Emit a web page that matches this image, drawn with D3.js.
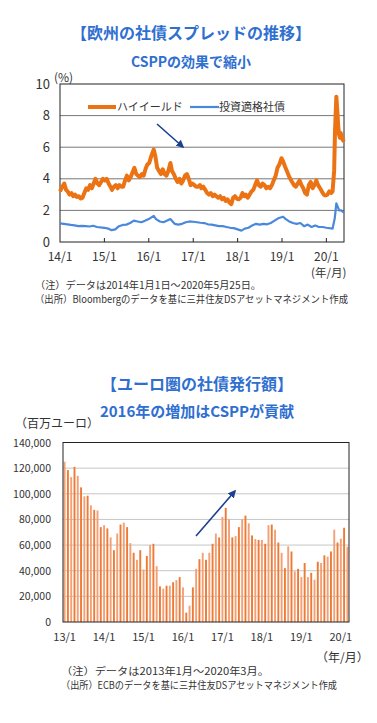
<!DOCTYPE html>
<html>
<head>
<meta charset="utf-8">
<script src="https://cdn.jsdelivr.net/npm/d3@7"></script>
<style>
  body { margin: 0; background: #fff; }
  svg { display: block; font-family: "Noto Sans CJK JP", "Noto Sans", sans-serif; }
  .ttl { fill: #2f6fd0; font-weight: bold; text-anchor: middle; }
  .lbl { fill: #333; }
</style>
</head>
<body>
<svg id="chart" width="377" height="723"></svg>
<script>
// --- spread chart data (%) ---
var hyDates = ["2014-01-01","2014-01-20","2014-02-05","2014-02-20","2014-03-05","2014-03-20","2014-04-05","2014-04-20","2014-05-05","2014-05-20","2014-06-05","2014-06-20","2014-07-05","2014-07-20","2014-08-05","2014-08-20","2014-09-05","2014-09-20","2014-10-05","2014-10-20","2014-11-05","2014-11-20","2014-12-05","2014-12-20",
  "2015-01-05","2015-01-20","2015-02-05","2015-02-20","2015-03-05","2015-03-20","2015-04-05","2015-04-20","2015-05-05","2015-05-20","2015-06-05","2015-06-20","2015-07-05","2015-07-20","2015-08-05","2015-08-20","2015-09-05","2015-09-20","2015-10-05","2015-10-20","2015-11-05","2015-11-20","2015-12-05","2015-12-20",
  "2016-01-05","2016-01-20","2016-02-11","2016-02-25","2016-03-10","2016-03-25","2016-04-10","2016-04-25","2016-05-10","2016-05-25","2016-06-10","2016-06-27","2016-07-10","2016-07-25","2016-08-10","2016-08-25","2016-09-10","2016-09-25","2016-10-10","2016-10-25","2016-11-10","2016-11-25","2016-12-10","2016-12-25",
  "2017-01-10","2017-01-25","2017-02-10","2017-02-25","2017-03-10","2017-03-25","2017-04-10","2017-04-25","2017-05-10","2017-05-25","2017-06-10","2017-06-25","2017-07-10","2017-07-25","2017-08-10","2017-08-25","2017-09-10","2017-09-25","2017-10-10","2017-10-25","2017-11-10","2017-11-25","2017-12-10","2017-12-25",
  "2018-01-10","2018-01-25","2018-02-10","2018-02-25","2018-03-10","2018-03-25","2018-04-10","2018-04-25","2018-05-10","2018-05-25","2018-06-10","2018-06-25","2018-07-10","2018-07-25","2018-08-10","2018-08-25","2018-09-10","2018-09-25","2018-10-10","2018-10-25","2018-11-10","2018-11-25","2018-12-10","2018-12-28",
  "2019-01-10","2019-01-25","2019-02-10","2019-02-25","2019-03-10","2019-03-25","2019-04-10","2019-04-25","2019-05-10","2019-05-25","2019-06-10","2019-06-25","2019-07-10","2019-07-25","2019-08-10","2019-08-25","2019-09-10","2019-09-25","2019-10-10","2019-10-25","2019-11-10","2019-11-25","2019-12-10","2019-12-25",
  "2020-01-10","2020-01-25","2020-02-10","2020-02-21","2020-03-05","2020-03-12","2020-03-23","2020-03-31","2020-04-07","2020-04-14","2020-04-21","2020-04-28","2020-05-05","2020-05-12","2020-05-25"];
var hyValues = [3.2,3.5,3.7,3.3,3.2,3.0,3.1,2.9,3.0,2.85,2.9,2.75,2.8,3.1,3.4,3.3,3.6,3.4,3.7,4.0,3.7,3.6,3.8,4.0,
  3.9,4.0,3.7,3.5,3.3,3.5,3.6,3.4,3.6,3.5,3.5,3.9,4.2,3.9,4.1,4.4,4.7,4.3,4.2,4.1,4.3,4.2,4.6,4.9,
  5.0,5.4,5.85,5.4,4.7,4.5,4.3,4.6,4.3,4.2,4.5,5.0,4.5,4.3,4.0,3.8,4.0,3.7,3.9,4.2,4.3,4.0,3.6,3.7,
  3.6,3.5,3.5,3.6,3.4,3.5,3.3,3.1,3.0,3.1,2.9,3.0,2.9,2.8,2.9,2.7,2.8,2.6,2.7,2.5,2.4,2.8,2.9,2.75,
  2.7,2.8,3.1,2.9,3.0,2.8,3.0,3.2,3.3,3.6,3.9,3.6,3.5,3.7,3.6,3.4,3.5,3.4,3.6,3.9,4.2,4.7,4.9,5.3,
  5.1,4.8,4.5,4.2,4.0,3.8,3.6,3.5,3.7,3.9,3.6,3.4,3.1,3.0,3.6,3.8,3.4,3.6,3.9,3.6,3.4,3.2,3.0,2.95,
  3.0,3.2,3.1,3.2,4.5,7.0,9.2,8.3,7.4,6.8,6.6,6.9,6.7,6.5,6.35];

var igDates = ["2014-01-01","2014-02-01","2014-03-01","2014-04-01","2014-05-01","2014-06-01","2014-07-01","2014-08-01","2014-09-01","2014-10-01","2014-11-01","2014-12-01",
  "2015-01-01","2015-02-01","2015-03-01","2015-04-01","2015-05-01","2015-06-01","2015-07-01","2015-08-01","2015-09-01","2015-10-01","2015-11-01","2015-12-01",
  "2016-01-01","2016-02-11","2016-03-01","2016-04-01","2016-05-01","2016-06-27","2016-07-15","2016-08-01","2016-09-01","2016-10-01","2016-11-01","2016-12-01",
  "2017-01-01","2017-02-01","2017-03-01","2017-04-01","2017-05-01","2017-06-01","2017-07-01","2017-08-01","2017-09-01","2017-10-01","2017-11-01","2017-12-01",
  "2018-01-01","2018-02-01","2018-03-01","2018-04-01","2018-05-01","2018-06-01","2018-07-01","2018-08-01","2018-09-01","2018-10-01","2018-11-01","2018-12-01",
  "2019-01-10","2019-02-01","2019-03-01","2019-04-01","2019-05-01","2019-06-01","2019-07-01","2019-08-01","2019-09-01","2019-10-01","2019-11-01","2019-12-01",
  "2020-01-01","2020-02-21","2020-03-10","2020-03-23","2020-04-05","2020-04-15","2020-05-01","2020-05-25"];
var igValues = [1.18,1.15,1.12,1.08,1.05,1.0,1.02,1.0,0.98,1.03,0.95,0.92,
  0.9,0.85,0.75,0.8,1.0,1.08,1.1,1.2,1.35,1.3,1.25,1.35,
  1.45,1.65,1.45,1.3,1.25,1.45,1.3,1.15,1.1,1.15,1.25,1.3,
  1.28,1.25,1.22,1.2,1.12,1.1,1.05,1.0,1.0,0.95,0.9,0.88,
  0.8,0.72,0.85,0.9,1.05,1.15,1.1,1.15,1.12,1.2,1.35,1.5,
  1.6,1.45,1.3,1.2,1.15,1.2,1.0,1.1,0.95,1.05,0.95,0.95,
  0.9,0.85,1.5,2.45,2.2,2.0,2.0,1.85];

var spreadTicks = [0, 2, 4, 6, 8, 10];
var spreadYears = ["2014-01-01","2015-01-01","2016-01-01","2017-01-01","2018-01-01","2019-01-01","2020-01-01"];

// --- issuance chart data (million EUR), 2013/1 .. 2020/3 monthly ---
var issueValues = [125000,118500,113000,121000,114000,105000,98000,98500,91000,87500,87000,74000,
  75500,73000,66000,56000,69000,76000,77500,74000,61500,54000,48500,56000,
  41000,51500,60000,61000,43500,27800,26000,28300,28300,31000,32700,35000,
  27000,7300,12700,27000,41500,49000,54000,48500,54000,61000,69000,66000,
  82000,89000,80000,66000,67000,74000,80000,83000,77000,67500,64700,64000,
  64000,61000,75500,76000,72000,62000,54000,42000,59000,55000,39500,41500,
  35000,46000,35000,38400,33000,47000,46000,52000,51000,55000,72000,62000,
  65000,73500,58700];
var issueTicks = [0,20000,40000,60000,80000,100000,120000,140000];

var parse = d3.timeParse("%Y-%m-%d");
var svg = d3.select("#chart");

// fixed-width note line
function note(g, x, y, w, txt) {
  g.append("text").attr("class", "lbl").attr("x", x).attr("y", y)
    .style("font-size", "10px")
    .attr("textLength", w).attr("lengthAdjust", "spacingAndGlyphs")
    .text(txt);
}

// ================= chart 1 =================
svg.append("text").attr("class", "ttl").attr("x", 191).attr("y", 39).style("font-size", "16px").text("【欧州の社債スプレッドの推移】");
svg.append("text").attr("class", "ttl").attr("x", 191).attr("y", 67).style("font-size", "14px").text("CSPPの効果で縮小");

var x1 = d3.scaleTime().domain([parse("2014-01-01"), parse("2020-05-25")]).range([60, 344]);
var y1 = d3.scaleLinear().domain([0, 10]).range([242, 84]);

var g1 = svg.append("g");
g1.selectAll("line.grid").data(spreadTicks.slice(1, 5)).enter().append("line")
    .attr("x1", 60).attr("x2", 344)
    .attr("y1", function(d) { return y1(d); }).attr("y2", function(d) { return y1(d); })
    .attr("stroke", "#777").attr("stroke-width", 1);

g1.append("rect").attr("x", 60).attr("y", 84).attr("width", 284).attr("height", 158)
    .attr("fill", "none").attr("stroke", "#222").attr("stroke-width", 1);

g1.selectAll("line.tk").data(spreadYears.slice(1)).enter().append("line")
    .attr("x1", function(d) { return x1(parse(d)); }).attr("x2", function(d) { return x1(parse(d)); })
    .attr("y1", 242).attr("y2", 238).attr("stroke", "#222");

g1.selectAll("text.yl").data(spreadTicks).enter().append("text").attr("class", "lbl")
    .attr("x", 50).attr("y", function(d) { return y1(d) + 4.5; })
    .attr("text-anchor", "end").style("font-size", "13px").text(function(d) { return d; });

g1.selectAll("text.xl").data(spreadYears).enter().append("text").attr("class", "lbl")
    .attr("x", function(d) { return x1(parse(d)); }).attr("y", 261)
    .attr("text-anchor", "middle").style("font-size", "12px")
    .text(function(d) { return d.slice(2, 4) + "/1"; });

g1.append("text").attr("class", "lbl").attr("x", 54).attr("y", 82).style("font-size", "12px").text("(%)");
g1.append("text").attr("class", "lbl").attr("x", 311).attr("y", 277).style("font-size", "11.5px").text("(年/月)");

var line1 = d3.line().x(function(d) { return x1(d[0]); }).y(function(d) { return y1(d[1]); });
var igData = igDates.map(function(d, i) { return [parse(d), igValues[i]]; });
var hyData = hyDates.map(function(d, i) { return [parse(d), hyValues[i]]; });

g1.append("path").datum(igData).attr("d", line1).attr("fill", "none")
    .attr("stroke", "#4a88dc").attr("stroke-width", 2.2).attr("stroke-linejoin", "round");
g1.append("path").datum(hyData).attr("d", line1).attr("fill", "none")
    .attr("stroke", "#ec7314").attr("stroke-width", 4).attr("stroke-linejoin", "round");

// legend
g1.append("line").attr("x1", 88).attr("x2", 116).attr("y1", 107).attr("y2", 107).attr("stroke", "#ec7314").attr("stroke-width", 4);
g1.append("text").attr("class", "lbl").attr("x", 117).attr("y", 111).style("font-size", "11px").text("ハイイールド");
g1.append("line").attr("x1", 190).attr("x2", 219).attr("y1", 107).attr("y2", 107).attr("stroke", "#4a88dc").attr("stroke-width", 2.2);
g1.append("text").attr("class", "lbl").attr("x", 219).attr("y", 111).style("font-size", "11px").text("投資適格社債");

// arrows
var defs = svg.append("defs");
defs.append("marker").attr("id", "ah").attr("viewBox", "0 0 10 10").attr("refX", 8).attr("refY", 5)
    .attr("markerWidth", 5).attr("markerHeight", 5).attr("orient", "auto")
  .append("path").attr("d", "M0,0L10,5L0,10z").attr("fill", "#1c3f94");
g1.append("line").attr("x1", 157).attr("y1", 124).attr("x2", 183).attr("y2", 147)
    .attr("stroke", "#1c3f94").attr("stroke-width", 1.6).attr("marker-end", "url(#ah)");

note(g1, 35, 289, 226, "（注）データは2014年1月1日～2020年5月25日。");
note(g1, 35, 303, 313, "（出所）Bloombergのデータを基に三井住友DSアセットマネジメント作成");

// ================= chart 2 =================
svg.append("text").attr("class", "ttl").attr("x", 197).attr("y", 390).style("font-size", "16px").text("【ユーロ圏の社債発行額】");
svg.append("text").attr("class", "ttl").attr("x", 197).attr("y", 417).style("font-size", "15px").text("2016年の増加はCSPPが貢献");

var months = d3.timeMonth.range(parse("2013-01-01"), parse("2020-04-01"));
var x2 = d3.scaleBand().domain(months.map(function(d, i) { return i; })).range([63, 349]).paddingInner(0.42).paddingOuter(0.2);
var y2 = d3.scaleLinear().domain([0, 140000]).range([622, 442.5]);

var g2 = svg.append("g");
g2.selectAll("line.grid").data(issueTicks.slice(1, 7)).enter().append("line")
    .attr("x1", 63).attr("x2", 349)
    .attr("y1", function(d) { return y2(d); }).attr("y2", function(d) { return y2(d); })
    .attr("stroke", "#c4c8c4").attr("stroke-width", 1);

g2.selectAll("rect.bar").data(issueValues).enter().append("rect")
    .attr("x", function(d, i) { return x2(i); })
    .attr("y", function(d) { return y2(d); })
    .attr("width", x2.bandwidth())
    .attr("height", function(d) { return y2(0) - y2(d); })
    .attr("fill", function(d, i) { return i % 2 ? "#ee7b35" : "#f4a077"; });

g2.append("rect").attr("x", 63).attr("y", 442.5).attr("width", 286).attr("height", 179.5)
    .attr("fill", "none").attr("stroke", "#222").attr("stroke-width", 1);

g2.selectAll("text.yl").data(issueTicks).enter().append("text").attr("class", "lbl")
    .attr("x", 51).attr("y", function(d) { return y2(d) + 4; })
    .attr("text-anchor", "end").style("font-size", "10.5px").text(function(d) { return d3.format(",")(d); });

g2.selectAll("text.xl").data(months.filter(function(d) { return d.getMonth() === 0; })).enter().append("text").attr("class", "lbl")
    .attr("x", function(d) { return x2(months.findIndex(function(m) { return +m === +d; })) + x2.bandwidth() / 2; })
    .attr("y", 641).attr("text-anchor", "middle").style("font-size", "11px")
    .text(function(d) { return d3.timeFormat("%y")(d) + "/1"; });

g2.append("text").attr("class", "lbl").attr("x", 15).attr("y", 428).style("font-size", "12px").text("（百万ユーロ）");
g2.append("text").attr("class", "lbl").attr("x", 316).attr("y", 662).style("font-size", "12px").text("（年/月）");

g2.append("line").attr("x1", 196).attr("y1", 536).attr("x2", 235).attr("y2", 491)
    .attr("stroke", "#1c3f94").attr("stroke-width", 1.6).attr("marker-end", "url(#ah)");

note(g2, 61, 675, 208, "（注）データは2013年1月～2020年3月。");
note(g2, 61, 688.5, 276, "（出所）ECBのデータを基に三井住友DSアセットマネジメント作成");
</script>
</body>
</html>
